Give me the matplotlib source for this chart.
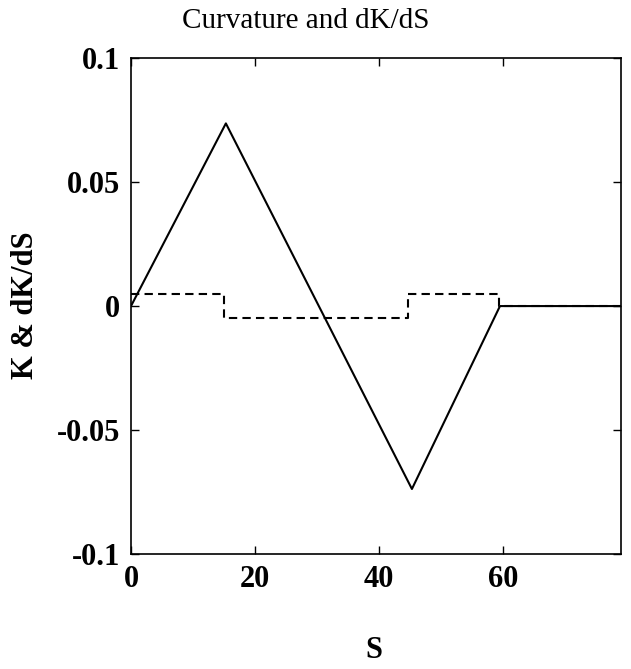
import numpy as np
import matplotlib.pyplot as plt

# curvatura (linea solida) y su derivada (discontinua)
s_k = [0, 15.3, 45.3, 59.5, 79]
k = [0, 0.0737, -0.0738, 0, 0]

s_dk = [0, 15, 15, 44.6, 44.6, 59.3, 59.3, 79]
dk = [0.005, 0.005, -0.005, -0.005, 0.005, 0.005, 0, 0]

xticks = [0, 20, 40, 60]
yticks = [-0.1, -0.05, 0, 0.05, 0.1]
ylabels = ["-0.1", "-0.05", "0", "0.05", "0.1"]

plt.rcParams['font.family'] = ['Liberation Serif', 'DejaVu Serif']

fig = plt.figure(figsize=(6.31, 6.69), dpi=100)
ax = fig.add_axes([0.2076, 0.172, 0.7764, 0.741])

ax.plot(s_k, k, color="black", lw=1.5)
ax.plot(s_dk, dk, color="black", lw=1.5, ls=(0, (4, 2.5)))

ax.set_xlim(0, 79)
ax.set_ylim(-0.1, 0.1)
ax.set_xticks(xticks)
ax.set_xticklabels([str(t) for t in xticks], fontsize=22, fontweight="bold")
ax.set_yticks(yticks)
ax.set_yticklabels(ylabels, fontsize=22, fontweight="bold")
ax.tick_params(direction="in", top=True, right=True, length=6, width=1)
ax.tick_params(axis="x", pad=8)
ax.tick_params(axis="y", pad=8)
for sp in ax.spines.values():
    sp.set_linewidth(1.2)

fig.text(0.485, 0.968, "Curvature and dK/dS", fontsize=21, ha="center", va="center")
fig.text(0.593, 0.028, "S", fontsize=22, fontweight="bold", ha="center", va="center")
fig.text(0.04, 0.543, "K & dK/dS", fontsize=22, fontweight="bold", rotation=90,
         ha="center", va="center")

fig.savefig("out.png", dpi=100)
